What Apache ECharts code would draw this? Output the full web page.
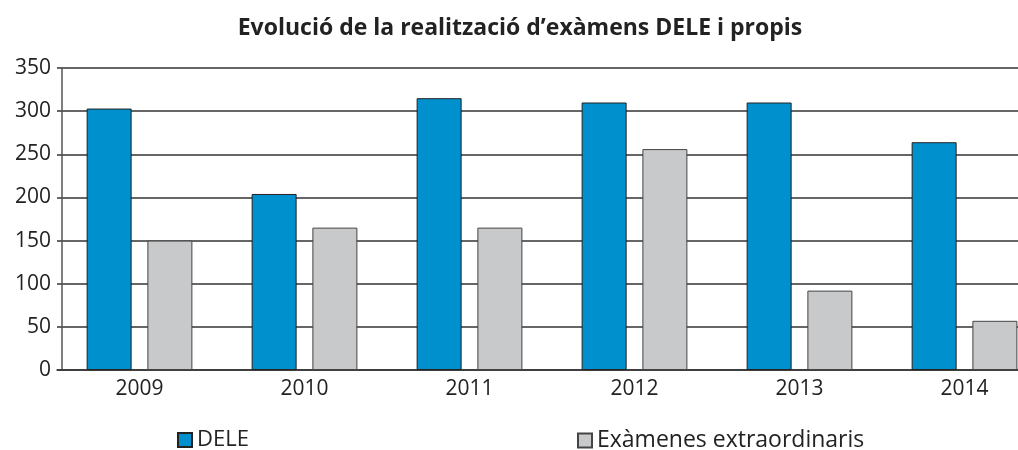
<!DOCTYPE html>
<html>
<head>
<meta charset="utf-8">
<script src="https://cdn.jsdelivr.net/npm/echarts@6/dist/echarts.min.js"></script>
<style>
    html, body { margin: 0; padding: 0; background: #fff; }
    #chart { width: 1018px; height: 450px; }
</style>
</head>
<body>
<div id="chart"></div>
<script>
// 年份
const years = ['2009', '2010', '2011', '2012', '2013', '2014'];
// DELE
const deleValues = [303, 204, 315, 310, 310, 264];
// Exàmenes extraordinaris
const extraValues = [150, 165, 165, 256, 92, 57];
const yTicks = [0, 50, 100, 150, 200, 250, 300, 350];

const font = '"Open Sans", "Noto Sans", sans-serif';

const chart = echarts.init(document.getElementById('chart'), null, { renderer: 'canvas' });

chart.setOption({
    animation: false,
    title: {
        text: 'Evolució de la realització d\u2019exàmens DELE i propis',
        left: 515,
        top: 12,
        textAlign: 'center',
        textStyle: {
            fontFamily: font,
            fontSize: 23,
            fontWeight: 'bold',
            color: '#222'
        }
    },
    legend: [{
        data: ['DELE'],
        icon: 'rect',
        left: 177,
        top: 429,
        padding: 0,
        itemWidth: 14,
        itemHeight: 14,
        textStyle: { fontFamily: font, fontSize: 22, color: '#222' }
    }, {
        data: ['Exàmenes extraordinaris'],
        icon: 'rect',
        left: 577,
        top: 429,
        padding: 0,
        itemWidth: 14,
        itemHeight: 14,
        textStyle: { fontFamily: font, fontSize: 23, color: '#222' }
    }],
    grid: {
        left: 57,
        top: 68,
        width: 990,
        height: 302,
        outerBoundsMode: 'none'
    },
    xAxis: {
        type: 'category',
        data: years,
        axisLine: { lineStyle: { color: '#333', width: 1.5 } },
        axisTick: { length: 7, lineStyle: { color: '#333', width: 1.5 } },
        axisLabel: {
            margin: 9,
            fontFamily: font,
            fontSize: 21,
            color: '#222'
        }
    },
    yAxis: {
        type: 'value',
        min: yTicks[0],
        max: yTicks[yTicks.length - 1],
        interval: 50,
        offset: -5,
        axisLine: { show: true, lineStyle: { color: '#555', width: 1.5 } },
        axisTick: { show: false },
        axisLabel: {
            margin: 11,
            fontFamily: font,
            fontSize: 21,
            color: '#222'
        },
        splitLine: { lineStyle: { color: '#333', width: 1.5 } }
    },
    series: [{
        name: 'DELE',
        type: 'bar',
        data: deleValues,
        barWidth: 45,
        barGap: '35%',
        itemStyle: { color: '#0090cd', borderColor: '#222', borderWidth: 1 }
    }, {
        name: 'Exàmenes extraordinaris',
        type: 'bar',
        data: extraValues,
        barWidth: 45,
        itemStyle: { color: '#c8c9cb', borderColor: '#444', borderWidth: 1 }
    }]
});
</script>
</body>
</html>
